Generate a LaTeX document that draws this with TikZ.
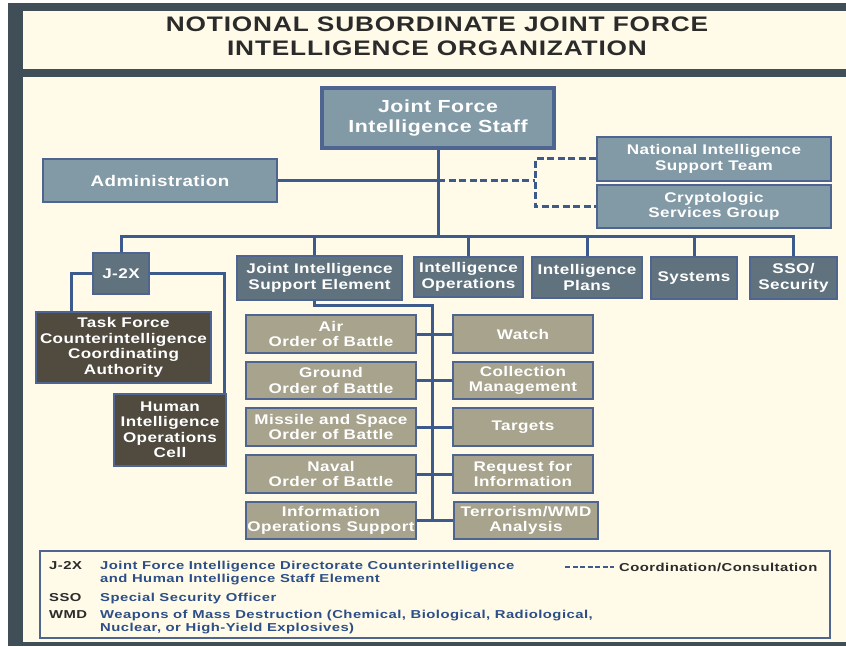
\documentclass[tikz,border=0pt]{standalone}
\usepackage{fontspec}
\setmainfont{Liberation Sans}
\newfontfamily\boxfont[FakeStretch=1.22,LetterSpace=3]{Liberation Sans}
\newfontfamily\legfont[FakeStretch=1.29,LetterSpace=4]{Liberation Sans}
\newfontfamily\titlefont[FakeStretch=1.25,LetterSpace=4]{Liberation Sans}
\definecolor{framec}{HTML}{3F4E57}
\definecolor{creamc}{HTML}{FFFBE8}
\definecolor{lightc}{HTML}{8299A6}
\definecolor{slatec}{HTML}{60727E}
\definecolor{khakic}{HTML}{A7A38C}
\definecolor{brownc}{HTML}{504A3F}
\definecolor{linec}{HTML}{3D5A8C}
\definecolor{bordc}{HTML}{4D6590}
\definecolor{legblue}{HTML}{2C4F88}
\definecolor{titlec}{HTML}{2B2B2B}
\tikzset{
  orgbox/.style={draw=bordc, line width=1.4pt, text=white, align=center, inner sep=0pt,
    font=\boxfont\bfseries\fontsize{14}{15.5}\selectfont},
  lightbox/.style={orgbox, fill=lightc},
  slatebox/.style={orgbox, fill=slatec},
  khakibox/.style={orgbox, fill=khakic},
  brownbox/.style={orgbox, fill=brownc},
  conn/.style={draw=linec, line width=3pt},
  dconn/.style={conn, dash pattern=on 7pt off 3.5pt},
  legabbr/.style={anchor=base west, inner sep=0pt, text=titlec, font=\legfont\bfseries\fontsize{11.5}{13}\selectfont},
  legdef/.style={anchor=base west, inner sep=0pt, text=legblue, font=\legfont\bfseries\fontsize{11.5}{13}\selectfont},
}
\begin{document}
\begin{tikzpicture}[x=1pt,y=-1pt]
\useasboundingbox (0,0) rectangle (846,647);
% frame
\fill[framec] (8,3) rectangle (846,646);
\fill[creamc] (23,11) rectangle (846,69);
\fill[creamc] (23,77) rectangle (846,642);
% title
\node[align=center, text=titlec, inner sep=0pt, font=\titlefont\bfseries\fontsize{21}{24}\selectfont] (title) at (437,36)
  {NOTIONAL SUBORDINATE JOINT FORCE\\INTELLIGENCE ORGANIZATION};
% top level
\node[lightbox, line width=3.5pt, minimum width=232pt, minimum height=60pt,
  font=\boxfont\bfseries\fontsize{17.5}{20}\selectfont] (jfis) at (438,118) {Joint Force\\Intelligence Staff};
\node[lightbox, minimum width=234pt, minimum height=43pt, font=\boxfont\bfseries\fontsize{15.4}{16}\selectfont] (admin) at (160,180.5) {Administration};
\node[lightbox, minimum width=234pt, minimum height=44pt] (nist) at (714,159) {National Intelligence\\Support Team};
\node[lightbox, minimum width=234pt, minimum height=43pt] (csg) at (714,206.5) {Cryptologic\\Services Group};
% second level
\node[slatebox, minimum width=56pt, minimum height=41pt] (j2x) at (121,273.5) {J-2X};
\node[slatebox, minimum width=165pt, minimum height=44pt] (jise) at (319.5,278) {Joint Intelligence\\Support Element};
\node[slatebox, minimum width=109pt, minimum height=40pt] (intops) at (468.5,277) {Intelligence\\Operations};
\node[slatebox, minimum width=110pt, minimum height=41pt] (intplans) at (587,277.5) {Intelligence\\Plans};
\node[slatebox, minimum width=86pt, minimum height=42pt] (systems) at (694,278) {Systems};
\node[slatebox, minimum width=87pt, minimum height=42pt] (sso) at (793.5,278) {SSO/\\Security};
% J-2X children
\node[brownbox, minimum width=175pt, minimum height=71pt] (tfcica) at (123.5,347.5) {Task Force\\Counterintelligence\\Coordinating\\Authority};
\node[brownbox, minimum width=112pt, minimum height=72pt] (hioc) at (170,430) {Human\\Intelligence\\Operations\\Cell};
% JISE children
\node[khakibox, minimum width=170pt, minimum height=38pt] (l1) at (331,334) {Air\\Order of Battle};
\node[khakibox, minimum width=170pt, minimum height=37pt] (l2) at (331,380.5) {Ground\\Order of Battle};
\node[khakibox, minimum width=170pt, minimum height=38pt] (l3) at (331,427) {Missile and Space\\Order of Battle};
\node[khakibox, minimum width=170pt, minimum height=38pt] (l4) at (331,474) {Naval\\Order of Battle};
\node[khakibox, minimum width=170pt, minimum height=37pt] (l5) at (331,520.5) {Information\\Operations Support};
\node[khakibox, minimum width=140pt, minimum height=38pt] (r1) at (523,334) {Watch};
\node[khakibox, minimum width=140pt, minimum height=37pt] (r2) at (523,380.5) {Collection\\Management};
\node[khakibox, minimum width=140pt, minimum height=38pt] (r3) at (523,427) {Targets};
\node[khakibox, minimum width=140pt, minimum height=38pt] (r4) at (523,474) {Request for\\Information};
\node[khakibox, minimum width=144pt, minimum height=37pt] (r5) at (526,520.5) {Terrorism/WMD\\Analysis};
% coordinates
\coordinate (busy) at (0,237);
\coordinate (dj) at (535,0);
\coordinate (st) at (432,0);
% connectors
\draw[conn] (jfis.south) -- (jfis.south |- busy);
\draw[conn] (j2x.north) -- (j2x.north |- busy) -- (sso.north |- busy) -- (sso.north);
\draw[conn] ([xshift=-5pt]jise.north) -- ([xshift=-5pt]jise.north |- busy);
\draw[conn] (intops.north) -- (intops.north |- busy);
\draw[conn] (intplans.north) -- (intplans.north |- busy);
\draw[conn] (systems.north) -- (systems.north |- busy);
\draw[conn] (admin.east) -- (admin.east -| jfis.south);
\draw[dconn] (admin.east -| jfis.south) -- (dj |- admin.east);
\draw[dconn] (nist.west) -| (dj |- admin.east) |- (csg.west);
\draw[conn] (j2x.west) -| ([xshift=-52.5pt]tfcica.north);
\draw[conn] (j2x.east) -| ([xshift=-2pt]hioc.north east);
\draw[conn] ([xshift=-5pt]jise.south) -- ++(0,5) -| (st |- l5.east);
\draw[conn] (l1.east) -- (r1.west);
\draw[conn] (l2.east) -- (r2.west);
\draw[conn] (l3.east) -- (r3.west);
\draw[conn] (l4.east) -- (r4.west);
\draw[conn] (l5.east) -- (r5.west);
% legend
\node[draw=bordc, line width=1.2pt, fill=creamc, minimum width=790pt, minimum height=87pt, inner sep=0pt] (legend) at (435,594.5) {};
\node[legabbr] (a1) at (49,569) {J-2X};
\node[legdef] (d1a) at (100,569) {Joint Force Intelligence Directorate Counterintelligence};
\node[legdef] (d1b) at (100,582) {and Human Intelligence Staff Element};
\node[legabbr] (a2) at (49,601) {SSO};
\node[legdef] (d2) at (100,601) {Special Security Officer};
\node[legabbr] (a3) at (49,618) {WMD};
\node[legdef] (d3a) at (100,618) {Weapons of Mass Destruction (Chemical, Biological, Radiological,};
\node[legdef] (d3b) at (100,631) {Nuclear, or High-Yield Explosives)};
\coordinate (lg1) at (565,567);
\coordinate (lg2) at (614,567);
\draw[dconn, line width=2pt, dash pattern=on 5pt off 2.5pt] (lg1) -- (lg2);
\node[legabbr, anchor=west] (coord) at ([xshift=5pt]lg2) {Coordination/Consultation};
\end{tikzpicture}
\end{document}
